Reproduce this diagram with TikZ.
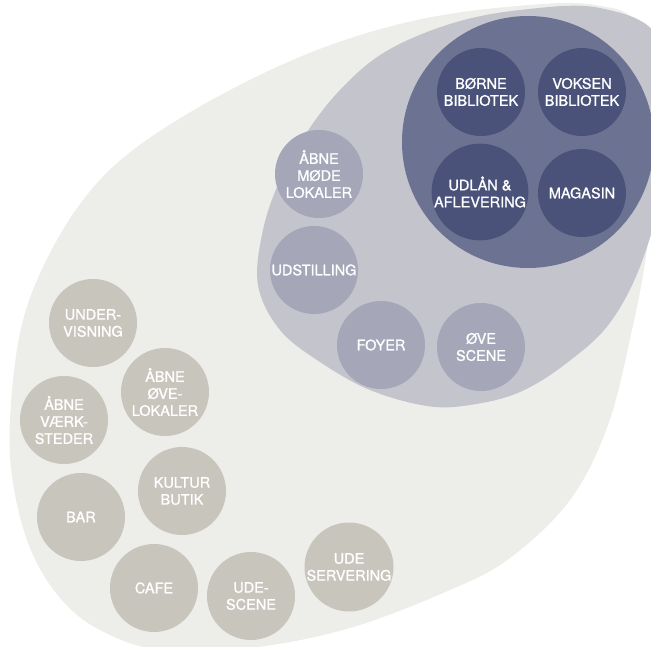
\documentclass[tikz,border=0pt]{standalone}
\usepackage{fontspec}
\setmainfont{TeX Gyre Heros}
\newfontfamily\roomfont{TeX Gyre Heros}[FakeBold=1.1]
\usepackage{xcolor}
\usepackage{tikz}

\definecolor{eggbg}{HTML}{EDEDEA}
\definecolor{udegrey}{HTML}{C8C5BD}
\definecolor{husbg}{HTML}{C4C4CD}
\definecolor{husgrey}{HTML}{A5A7B9}
\definecolor{bibbg}{HTML}{6C7291}
\definecolor{bibdark}{HTML}{4A5279}

\begin{document}
\begin{tikzpicture}[
    x=1pt, y=-1pt,
    room/.style={
        circle,
        minimum size=88pt,
        inner sep=0pt,
        align=center,
        text=white,
        font=\roomfont\fontsize{14.5}{17}\selectfont
    },
    bib/.style={room, fill=bibdark},
    hus/.style={room, fill=husgrey},
    ude/.style={room, fill=udegrey}
]
\clip (0,0) rectangle (651,647);

% Zoner
\fill[eggbg] plot[smooth cycle, tension=0.6] coordinates {
    (10,420) (20,333) (43,267) (83,200) (133,150) (217,97) (317,50)
    (417,20) (517,6) (595,5) (640,30) (660,140) (647,250) (632,330)
    (608,425) (570,500) (510,558) (450,590) (350,628) (250,648)
    (160,650) (100,630) (60,598) (30,548) (13,483)};
\fill[husbg] plot[smooth cycle, tension=0.6] coordinates {
    (258,285) (263,230) (280,180) (305,135) (340,90) (385,52) (450,24)
    (520,10) (600,8) (660,40) (672,140) (646,250) (612,320) (568,362)
    (520,392) (470,405) (427,406) (370,390) (320,362) (280,330)};
\fill[bibbg] (528,142) circle (126);

% Bibliotek
\node[bib] (boerne)  at (481,92)  {BØRNE\\BIBLIOTEK};
\node[bib] (voksen)  at (582,92)  {VOKSEN\\BIBLIOTEK};
\node[bib] (udlaan)  at (480,192) {UDLÅN \&\\AFLEVERING};
\node[bib] (magasin) at (582,193) {MAGASIN};

% Hus
\node[hus] (moede)      at (319,174) {ÅBNE\\MØDE\\LOKALER};
\node[hus] (udstilling) at (314,270) {UDSTILLING};
\node[hus] (foyer)      at (381,345) {FOYER};
\node[hus] (oevescene)  at (481,347) {ØVE\\SCENE};

% Ude og byrum
\node[ude] (undervisning) at (93,323)  {UNDER-\\VISNING};
\node[ude] (oevelokaler)  at (165,392) {ÅBNE\\ØVE-\\LOKALER};
\node[ude] (vaerksteder)  at (64,420)  {ÅBNE\\VÆRK-\\STEDER};
\node[ude] (kultur)       at (182,491) {KULTUR\\BUTIK};
\node[ude] (bar)          at (81,517)  {BAR};
\node[ude] (cafe)         at (154,588) {CAFE};
\node[ude] (udescene)     at (251,596) {UDE-\\SCENE};
\node[ude] (servering)    at (349,567) {UDE\\SERVERING};

\end{tikzpicture}
\end{document}
